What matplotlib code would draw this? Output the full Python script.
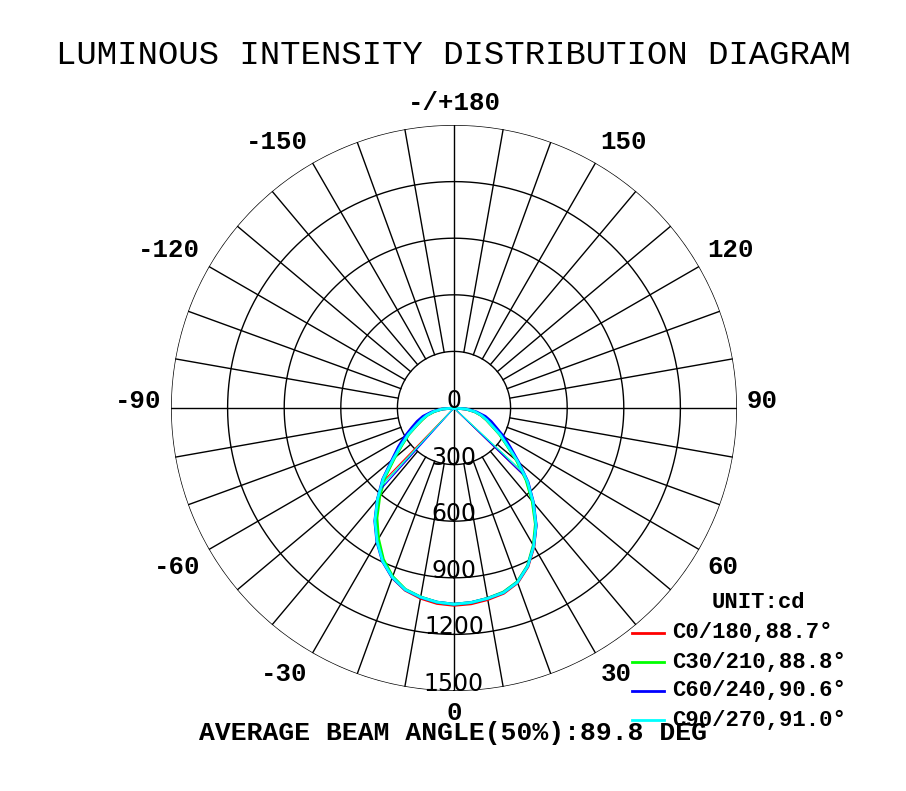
import numpy as np
import matplotlib.pyplot as plt
from matplotlib.lines import Line2D

# gamma angles (deg), negative = left half of the diagram
gamma = list(range(-90, 95, 5))

# intensity (cd) per C-plane pair, gamma -90 .. 90
c0 = [0, 62, 108, 146, 180, 220, 278, 338, 418, 528, 628, 728, 813, 893, 957, 1000, 1024, 1040,
      1046,
      1042, 1031, 1017, 986, 928, 848, 758, 652, 548, 438, 343, 281, 221, 183, 148, 111, 63, 0]
c30 = [0, 60, 105, 145, 178, 218, 275, 332, 410, 515, 612, 712, 800, 885, 950, 995, 1017, 1033,
       1040,
       1035, 1024, 1010, 980, 922, 840, 752, 645, 540, 432, 340, 278, 220, 182, 148, 110, 62, 0]
c60 = [0, 68, 120, 170, 208, 247, 300, 360, 430, 535, 632, 732, 818, 897, 957, 998, 1019, 1033,
       1040,
       1035, 1025, 1013, 983, 925, 845, 760, 656, 555, 448, 365, 305, 248, 210, 172, 122, 70, 0]
c90 = [0, 63, 110, 148, 183, 222, 280, 340, 420, 530, 630, 730, 815, 895, 955, 997, 1018, 1033,
       1040,
       1035, 1025, 1013, 983, 925, 845, 758, 653, 550, 440, 345, 283, 223, 185, 150, 113, 65, 0]

series = [c0, c30, c60, c90]
colors = ['#ff0000', '#00ff00', '#0000ff', '#00ffff']
labels = ['C0/180,88.7°', 'C30/210,88.8°', 'C60/240,90.6°', 'C90/270,91.0°']

# thin chord segments from the centre to the curve
chord_left_angle = [-44, -43, -42, -43]
chord_left_val = [545, 555, 590, 570]
chord_right_angle = [46, 47, 46, 47]
chord_right_val = [530, 510, 535, 515]

ring_values = [300, 600, 900, 1200, 1500]
ring_labels = ['0', '300', '600', '900', '1200', '1500']
angle_ticks = [0, 30, 60, 90, 120, 150, 180, -150, -120, -90, -60, -30]
angle_labels = ['0', '30', '60', '90', '120', '150', '-/+180', '-150', '-120', '-90', '-60', '-30']

rmax = 1500
mono = 'Liberation Mono'

fig = plt.figure(figsize=(9.06, 7.91), dpi=100)
ax = fig.add_axes([171 / 906, 100 / 791, 566 / 906, 566 / 791], projection='polar')
ax.set_theta_zero_location('S')
ax.set_theta_direction(1)
ax.set_rlim(0, rmax)
ax.grid(False)
ax.set_xticks([])
ax.set_yticks([])
ax.spines['polar'].set_visible(False)

# grid circles
tt = np.linspace(0, 2 * np.pi, 721)
for rv in ring_values:
    ax.plot(tt, np.full_like(tt, rv), color='black', lw=1, zorder=1)

# radial lines every 10 deg; only the axes cross go through the centre
for a in range(0, 360, 10):
    r0 = 0 if a % 90 == 0 else ring_values[0]
    ax.plot([np.radians(a)] * 2, [r0, rmax], color='black', lw=1, zorder=1)

th = np.radians(gamma)
for vals, col, la, lv, ra, rv in zip(series, colors, chord_left_angle, chord_left_val,
                                     chord_right_angle, chord_right_val):
    ax.plot(th, vals, color=col, lw=2, zorder=3)
    ax.plot([0, np.radians(la)], [0, lv], color=col, lw=0.8, zorder=3)
    ax.plot([0, np.radians(ra)], [0, rv], color=col, lw=0.8, zorder=3)

# ring value labels along the 0 deg direction
for rv, txt in zip([0] + ring_values, ring_labels):
    ax.text(0, rv, txt, ha='center', va='baseline', fontsize=17,
            family='DejaVu Sans', zorder=4)

# angle labels, anchored just outside the outer ring
rlab = rmax * 293 / 283
for a, txt in zip(angle_ticks, angle_labels):
    if a in (0, 180):
        ha = 'center'
    else:
        ha = 'left' if a > 0 else 'right'
    if abs(a) < 90:
        va = 'top'
    elif abs(a) == 90:
        va = 'baseline'
    else:
        va = 'bottom'
    ax.text(np.radians(a), rlab, txt, ha=ha, va=va, clip_on=False,
            fontsize=18.5, family=mono, fontweight='bold')

fig.text(453 / 906, 1 - 55 / 791, 'LUMINOUS INTENSITY DISTRIBUTION DIAGRAM',
         ha='center', va='center', fontsize=24.5, family=mono)
fig.text(453 / 906, 1 - 733 / 791, 'AVERAGE BEAM ANGLE(50%):89.8 DEG',
         ha='center', va='center', fontsize=19, family=mono, fontweight='bold')

# legend
fig.text(758 / 906, 1 - 603 / 791, 'UNIT:cd', ha='center', va='center', fontsize=16,
         family=mono, fontweight='bold')
for i, (col, txt) in enumerate(zip(colors, labels)):
    y = 1 - (633 + 29 * i) / 791
    fig.add_artist(Line2D([632 / 906, 664 / 906], [y, y], color=col, lw=2))
    fig.text(672 / 906, y, txt, ha='left', va='center', fontsize=16, family=mono,
             fontweight='bold')

fig.savefig('out.png', dpi=100)
